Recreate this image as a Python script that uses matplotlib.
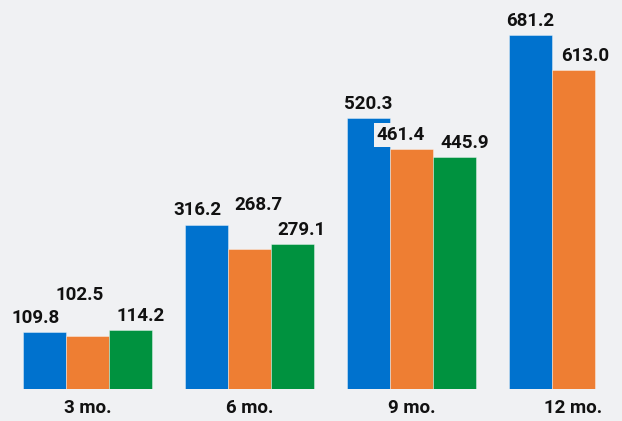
import numpy as np
import matplotlib
matplotlib.use("Agg")
import matplotlib.pyplot as plt

categories = ["3 mo.", "6 mo.", "9 mo.", "12 mo."]
series_a = [109.8, 316.2, 520.3, 681.2]
series_b = [102.5, 268.7, 461.4, 613.0]
series_c = [114.2, 279.1, 445.9, np.nan]

# label placement nudges (pixels): horizontal shift and extra lift, per series
label_dx = [[-9, -9, 0, 0], [-7.5, 8.5, -11, 11.5], [10, 9.5, 10, 0]]
label_lift = [[0, 1, 0, 0], [26.5, 30, 0, 0], [0, 0, 0, 0]]

colors = ["#0072CE", "#EE7E33", "#00923F"]
bg = "#F0F1F3"

plt.rcParams['font.family'] = ['Roboto', 'DejaVu Sans']

DPI = 100
fig = plt.figure(figsize=(6.22, 4.21), dpi=DPI, facecolor=bg)
ax = fig.add_axes([0, 32 / 421, 1, 1 - 32 / 421])
ax.set_facecolor(bg)

px2pt = 72 / DPI
x = np.arange(len(categories))
w = 0.265
for i, (vals, col) in enumerate(zip([series_a, series_b, series_c], colors)):
    xs = x + (i - 1) * w
    ax.bar(xs, vals, width=w, color=col, edgecolor=(1, 1, 1, 0.45), linewidth=0.6, zorder=2)
    for j, (xx, v) in enumerate(zip(xs, vals)):
        if np.isnan(v):
            continue
        dx = label_dx[i][j] * px2pt
        dy = (9 + label_lift[i][j]) * px2pt
        ax.annotate(f"{v:.1f}", xy=(xx, v), xytext=(dx, dy), textcoords="offset points",
                    ha="center", va="baseline", fontsize=13.5, fontweight="bold", color="#111111",
                    bbox=dict(boxstyle="square,pad=0.15", fc=bg, ec="none"), zorder=3)

ax.set_xlim(-87.5 / 162, (622 - 87.5) / 162)
ax.set_ylim(0, 748)
ax.set_xticks(x)
ax.set_xticklabels(categories, fontsize=13.5, fontweight="bold", color="#111111")
ax.tick_params(axis="x", length=0, pad=7.5)
ax.set_yticks([])
for s in ax.spines.values():
    s.set_visible(False)

fig.savefig("out.png", dpi=DPI, facecolor=bg)
